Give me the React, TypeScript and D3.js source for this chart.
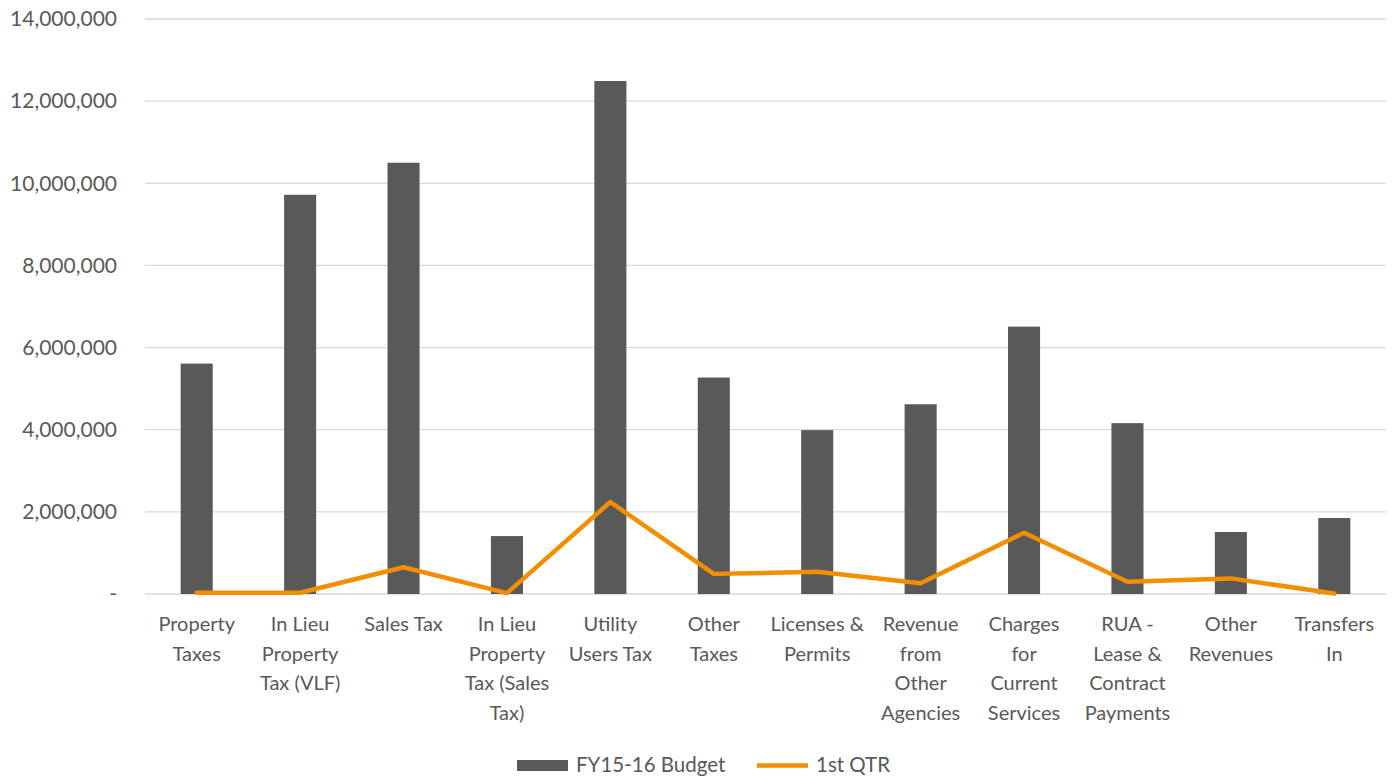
import React from "react";
import * as d3 from "d3";

const categories: string[][] = [
  ["Property", "Taxes"],
  ["In Lieu", "Property", "Tax (VLF)"],
  ["Sales Tax"],
  ["In Lieu", "Property", "Tax (Sales", "Tax)"],
  ["Utility", "Users Tax"],
  ["Other", "Taxes"],
  ["Licenses &", "Permits"],
  ["Revenue", "from", "Other", "Agencies"],
  ["Charges", "for", "Current", "Services"],
  ["RUA -", "Lease &", "Contract", "Payments"],
  ["Other", "Revenues"],
  ["Transfers", "In"],
];
const budget: number[] = [5610000, 9720000, 10500000, 1410000, 12490000, 5270000, 3990000, 4620000, 6510000, 4160000, 1510000, 1850000];
const qtr1: number[] = [30000, 30000, 650000, 20000, 2240000, 490000, 540000, 260000, 1490000, 300000, 380000, 10000];
const yTicks: number[] = [0, 2000000, 4000000, 6000000, 8000000, 10000000, 12000000, 14000000];
const seriesNames: string[] = ["FY15-16 Budget", "1st QTR"];

const W = 1394, H = 777;
const left = 145, right = 1386, top = 19, bottom = 594;
const font = "Lato, 'Open Sans', sans-serif";
const textColor = "#595959";

export default function App() {
  const x = d3.scaleBand<number>().domain(d3.range(categories.length)).range([left, right]).paddingInner(0.69).paddingOuter(0.345);
  const y = d3.scaleLinear().domain([0, 14000000]).range([bottom, top]);
  const fmt = d3.format(",");
  const cx = (i: number) => (x(i) as number) + x.bandwidth() / 2;
  const line = d3.line<number>().x((_, i) => cx(i)).y((d) => y(d));
  return (
    <svg width={W} height={H} style={{ position: "absolute", left: 0, top: 0 }}>
      <rect width={W} height={H} fill="#fff" />
      {yTicks.map((t) => (
        <g key={t}>
          <line x1={left} x2={right} y1={y(t)} y2={y(t)} stroke="#d9d9d9" strokeWidth={1.3} />
          <text x={117} y={y(t)} dy="0.35em" textAnchor="end" fontFamily={font} fontSize={21} fill={textColor}>
            {t === 0 ? "-" : fmt(t)}
          </text>
        </g>
      ))}
      {budget.map((v, i) => (
        <rect key={i} x={x(i)} y={y(v)} width={x.bandwidth()} height={y(0) - y(v)} fill="#595959" />
      ))}
      <path d={line(qtr1) || ""} fill="none" stroke="#f28e00" strokeWidth={4.5} strokeLinejoin="round" strokeLinecap="round" />
      {categories.map((lines, i) => (
        <text key={i} textAnchor="middle" fontFamily={font} fontSize={20} fill={textColor}>
          {lines.map((l, j) => (
            <tspan key={j} x={cx(i)} y={631 + j * 29.6}>{l}</tspan>
          ))}
        </text>
      ))}
      <rect x={517} y={760} width={51} height={11} fill="#595959" />
      <text x={576} y={772} fontFamily={font} fontSize={20.5} fill={textColor}>{seriesNames[0]}</text>
      <line x1={757} x2={808} y1={765.5} y2={765.5} stroke="#f28e00" strokeWidth={4.5} />
      <text x={816} y={772} fontFamily={font} fontSize={20.5} fill={textColor}>{seriesNames[1]}</text>
    </svg>
  );
}
